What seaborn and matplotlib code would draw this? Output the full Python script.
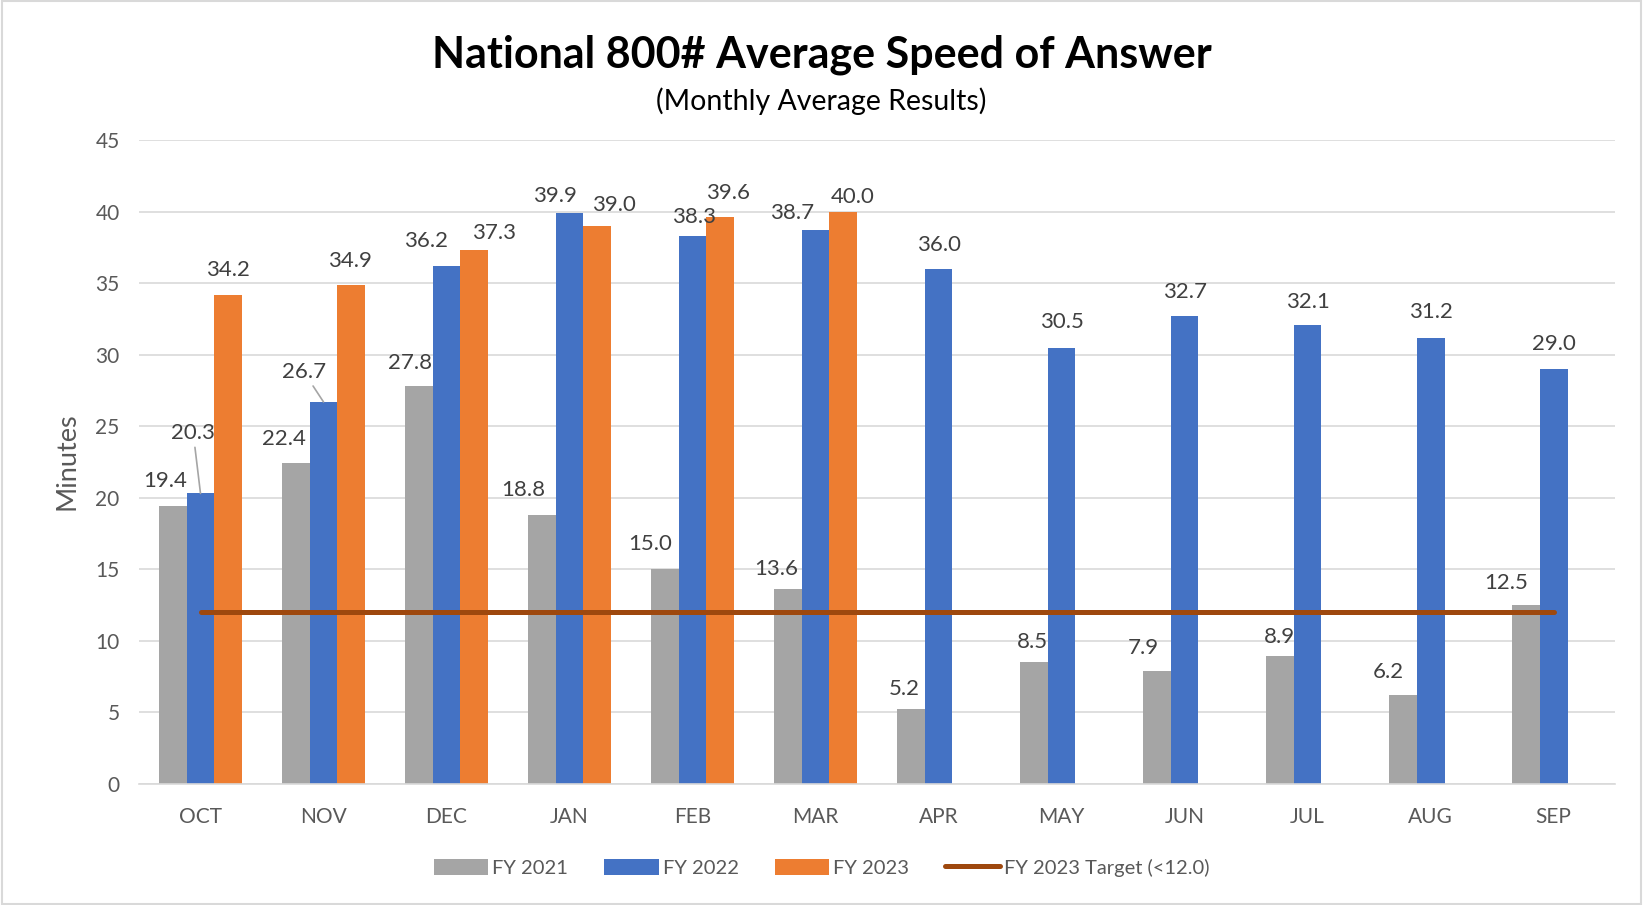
import numpy as np
import pandas as pd
import matplotlib
matplotlib.use("Agg")
import matplotlib.pyplot as plt
from matplotlib.patches import Patch, Rectangle
from matplotlib.lines import Line2D
import seaborn as sns

# chart data
months = ['OCT', 'NOV', 'DEC', 'JAN', 'FEB', 'MAR', 'APR', 'MAY', 'JUN', 'JUL', 'AUG', 'SEP']
fy2021 = [19.4, 22.4, 27.8, 18.8, 15.0, 13.6, 5.2, 8.5, 7.9, 8.9, 6.2, 12.5]
fy2022 = [20.3, 26.7, 36.2, 39.9, 38.3, 38.7, 36.0, 30.5, 32.7, 32.1, 31.2, 29.0]
fy2023 = [34.2, 34.9, 37.3, 39.0, 39.6, 40.0]
target = [12.0, 12.0, 12.0, 12.0, 12.0, 12.0, 12.0, 12.0, 12.0, 12.0, 12.0, 12.0]
series_names = ['FY 2021', 'FY 2022', 'FY 2023']
target_name = 'FY 2023 Target (<12.0)'

colors = ['#A5A5A5', '#4472C4', '#ED7D31']
target_color = '#9E480E'

# label nudges (px, x right / y down) relative to the default spot above each bar
off_2021 = [(-7, -24), (-11, -23), (-8, -22), (-18, -24), (-14, -24), (-11, -19),
            (-6, -19), (-1, -19), (-13, -22), (0, -19), (-14, -22), (-19, -21)]
off_2022 = [(-7, -58), (-19, -29), (-20, -24), (-14, -16), (1, -18), (-22, -17),
            (0, -23), (0, -24), (0, -23), (0, -22), (0, -24), (0, -24)]
off_2023 = [(0, -24), (-1, -23), (19, -17), (16, -20), (7, -23), (9, -14)]
leaders = {(1, 0), (1, 1)}  # (series, month) labels with a leader line

rows = []
for name, vals in zip(series_names, [fy2021, fy2022, fy2023]):
    for m, v in zip(months, vals):
        rows.append({'month': m, 'series': name, 'minutes': v})
df = pd.DataFrame(rows)

sns.set_style("white")
plt.rcParams['font.family'] = ['Lato', 'DejaVu Sans']

fig = plt.figure(figsize=(16.43, 9.05), dpi=100)
ax = fig.add_axes([0.0846, 0.134, 0.983 - 0.0846, 0.845 - 0.134])

sns.barplot(data=df, x='month', y='minutes', hue='series', order=months,
            hue_order=series_names, palette=colors, width=0.68, saturation=1,
            errorbar=None, linewidth=0, legend=False, ax=ax)

ax.plot(np.arange(len(months)), target, color=target_color, lw=3.6,
        solid_capstyle='round', zorder=5)

# data labels
px2pt = 1.048 * 0.72
for i, (cont, vals, offs) in enumerate(zip(ax.containers, [fy2021, fy2022, fy2023],
                                           [off_2021, off_2022, off_2023])):
    for j, (bar, v, (dx, dy)) in enumerate(zip(cont.patches, vals, offs)):
        x = bar.get_x() + bar.get_width() / 2
        y = bar.get_height()
        arrow = None
        if (i, j) in leaders:
            arrow = dict(arrowstyle='-', color='#A5A5A5', lw=1.2,
                         shrinkA=1, shrinkB=0)
        ax.annotate(f'{v:.1f}', xy=(x, y), xytext=(dx * px2pt, -dy * px2pt),
                    textcoords='offset points', ha='center', va='center',
                    fontsize=16, color='#404040', arrowprops=arrow, zorder=6)

ax.set_ylim(0, 45)
ax.set_yticks(np.arange(0, 46, 5))
ax.set_xlim(-0.5, len(months) - 0.5)
ax.yaxis.grid(True, color='#D9D9D9', lw=1.2)
ax.set_axisbelow(True)
for s in ['top', 'right', 'left']:
    ax.spines[s].set_visible(False)
ax.spines['bottom'].set_color('#D9D9D9')
ax.spines['bottom'].set_linewidth(1.2)
ax.tick_params(axis='both', length=0, labelsize=15, labelcolor='#595959')
ax.tick_params(axis='y', pad=14)
ax.tick_params(axis='x', pad=17)
ax.set_xlabel('')
ax.set_ylabel('')

fig.text(0.041, 0.49, 'Minutes', rotation=90, ha='center', va='center',
         fontsize=19.5, color='#595959')
fig.text(0.5, 0.939, 'National 800# Average Speed of Answer', ha='center',
         va='center', fontsize=31, fontweight='bold', color='black')
fig.text(0.5, 0.888, '(Monthly Average Results)', ha='center', va='center',
         fontsize=20.5, color='black')

handles = [Patch(facecolor=c, edgecolor='none') for c in colors]
handles.append(Line2D([0], [0], color=target_color, lw=3.6, solid_capstyle='round'))
fig.legend(handles, series_names + [target_name], loc='center',
           bbox_to_anchor=(0.5, 0.041), ncol=4, frameon=False, fontsize=14.5,
           handlelength=2.7, handleheight=0.9, handletextpad=0.2,
           columnspacing=1.8, labelcolor='#595959')

fig.patches.append(Rectangle((0.001, 0.001), 0.998, 0.998, transform=fig.transFigure,
                             fill=False, edgecolor='#D9D9D9', lw=1.5))

fig.savefig('out.png', dpi=100)
